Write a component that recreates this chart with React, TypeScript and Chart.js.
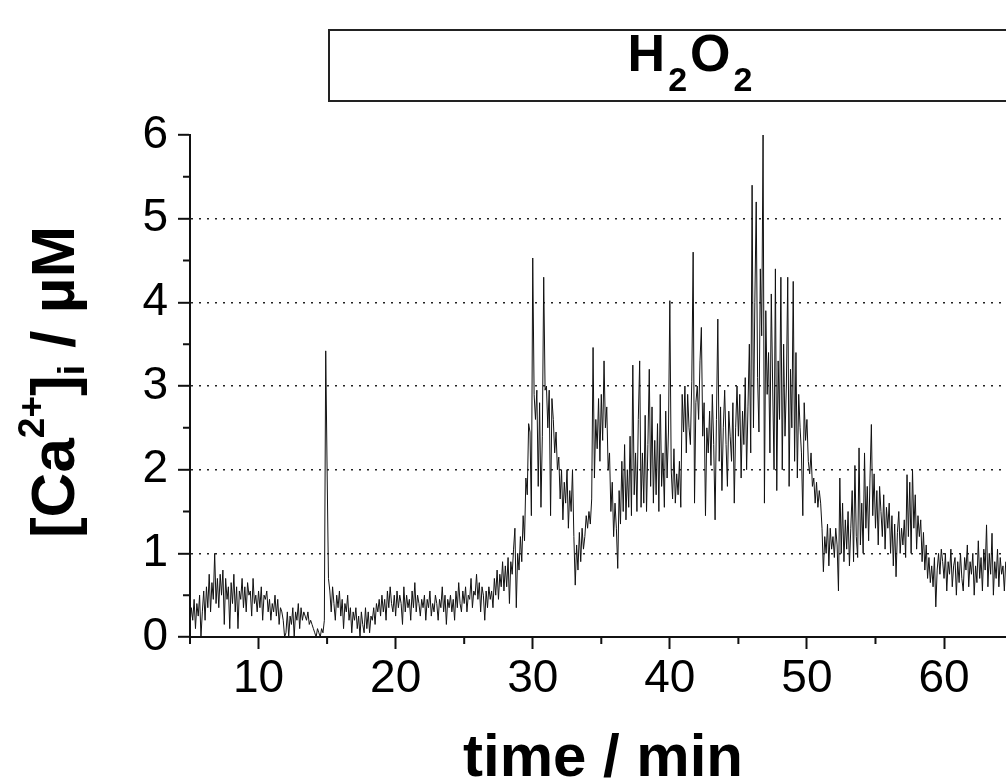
import React, { useEffect, useRef } from "react";
import { Chart, registerables } from "chart.js";

Chart.register(...registerables);

// ---- data: [Ca2+]i (µM) sampled every 0.1 min starting at 5 min ----
const TIME_START = 5;
const TIME_STEP = 0.1;

// 5.0 – 14.9 min
const caSeg05 = [
  0.15, 0.35, 0.2, 0.45, 0.1, 0.4, 0.25, 0.5, 0.0, 0.3,
  0.55, 0.2, 0.6, 0.35, 0.75, 0.3, 0.65, 0.45, 1.0, 0.4,
  0.7, 0.35, 0.75, 0.5, 0.8, 0.15, 0.7, 0.45, 0.6, 0.1,
  0.65, 0.4, 0.75, 0.3, 0.6, 0.1, 0.55, 0.45, 0.7, 0.35,
  0.6, 0.3, 0.65, 0.5, 0.55, 0.25, 0.7, 0.4, 0.5, 0.3,
  0.55, 0.35, 0.6, 0.2, 0.5, 0.45, 0.55, 0.3, 0.45, 0.2,
  0.4, 0.3, 0.5, 0.25, 0.45, 0.15, 0.35, 0.3, 0.2, 0.0,
  0.05, 0.3, 0.0, 0.25, 0.15, 0.35, 0.0, 0.3, 0.2, 0.4,
  0.1, 0.35, 0.2, 0.3, 0.25, 0.2, 0.3, 0.15, 0.2, 0.15,
  0.1, 0.05, 0.0, 0.1, 0.05, 0.0, 0.1, 0.05, 0.2, 3.42,
];
// 15.0 – 24.9 min
const caSeg15 = [
  2.0, 0.7, 0.55, 0.3, 0.6, 0.4, 0.2, 0.5, 0.35, 0.55,
  0.25, 0.45, 0.1, 0.4, 0.3, 0.5, 0.2, 0.35, 0.05, 0.3,
  0.2, 0.35, 0.1, 0.25, 0.0, 0.3, 0.15, 0.05, 0.35, 0.1,
  0.3, 0.05, 0.25, 0.2, 0.35, 0.15, 0.4, 0.3, 0.45, 0.25,
  0.5, 0.3, 0.45, 0.2, 0.55, 0.35, 0.6, 0.4, 0.3, 0.5,
  0.25, 0.55, 0.35, 0.5, 0.4, 0.15, 0.6, 0.3, 0.5, 0.35,
  0.45, 0.2, 0.55, 0.35, 0.65, 0.3, 0.5, 0.4, 0.25, 0.45,
  0.35, 0.5, 0.2, 0.45, 0.35, 0.55, 0.25, 0.4, 0.3, 0.5,
  0.4, 0.2, 0.45, 0.35, 0.6, 0.3, 0.5, 0.15, 0.45, 0.35,
  0.5, 0.3, 0.45, 0.2, 0.55, 0.35, 0.65, 0.4, 0.3, 0.55,
];
// 25.0 – 34.9 min
const caSeg25 = [
  0.4, 0.6, 0.3, 0.5, 0.45, 0.7, 0.35, 0.55, 0.5, 0.75,
  0.45, 0.65, 0.3, 0.6, 0.5, 0.2, 0.55, 0.35, 0.6, 0.45,
  0.55, 0.35, 0.7, 0.5, 0.8, 0.45, 0.75, 0.6, 0.9, 0.55,
  0.85, 0.6, 0.95, 0.4, 0.9, 0.75, 1.05, 1.3, 0.35, 1.0,
  0.8, 1.2, 0.9, 1.45, 1.15, 1.9, 1.7, 2.55, 2.45, 1.45,
  4.53, 2.9, 2.6, 2.95, 1.8, 2.8, 1.55, 2.4, 4.3, 2.95,
  3.0, 2.5, 2.95, 1.45, 2.85, 2.6, 2.2, 2.45, 2.0, 2.15,
  1.65, 2.0, 1.4, 1.85, 1.6, 2.0, 1.3, 1.75, 1.5, 2.0,
  1.2, 0.62, 1.1, 0.8, 1.25, 0.9, 1.3, 1.05, 1.2, 1.45,
  1.3, 1.5, 1.35, 1.65, 3.46, 1.9, 2.6, 2.25, 2.85, 2.1,
];
// 35.0 – 44.9 min
const caSeg35 = [
  2.9, 2.35, 3.3, 2.5, 2.75, 2.0, 2.2, 1.5, 1.85, 1.2,
  1.6, 1.3, 0.82, 1.75, 1.35, 2.1, 1.5, 2.3, 1.4, 2.0,
  1.55, 2.4, 1.45, 3.25, 1.7, 2.2, 1.5, 2.6, 3.3, 1.55,
  2.2, 1.6, 2.65, 1.5, 2.3, 3.2, 1.8, 2.75, 1.6, 2.35,
  1.7, 2.55, 1.5, 2.9, 1.8, 2.2, 1.55, 2.7, 1.9, 2.45,
  4.02, 2.0, 1.65, 2.25, 1.6, 1.95, 1.7, 2.1, 1.55, 2.9,
  2.45, 3.0, 2.2, 2.9, 2.5, 2.3, 3.05, 4.6, 1.6, 2.8,
  3.0, 2.6, 3.3, 3.7, 2.4, 2.8, 1.45, 2.5, 2.2, 2.7,
  2.05, 2.9, 2.3, 1.4, 2.6, 3.8, 2.1, 2.75, 1.75, 2.5,
  2.95, 2.3, 1.8, 2.7, 2.4, 2.1, 2.8, 1.6, 2.5, 3.0,
];
// 45.0 – 54.9 min
const caSeg45 = [
  2.4, 2.9, 1.9, 2.7, 2.3, 3.1, 2.0, 2.75, 3.5, 2.2,
  5.4, 2.5, 4.0, 5.2, 3.1, 2.45, 4.4, 3.6, 6.0, 1.6,
  3.9, 2.9, 3.4, 2.2, 4.1, 3.0, 2.0, 4.4, 1.75, 3.3,
  2.6, 4.3, 2.0, 3.5, 2.4, 3.0, 4.3, 1.8, 3.2, 2.5,
  4.25, 2.1, 3.4, 1.9, 2.9, 2.5, 2.2, 1.45, 2.8, 2.35,
  2.6, 2.1, 1.95, 2.2, 1.8, 1.9, 1.6, 1.85, 1.55, 1.75,
  1.6, 1.3, 0.78, 1.2, 1.0, 1.35, 0.85, 1.3, 1.05, 1.2,
  0.95, 1.3, 1.1, 0.55, 1.9, 1.0, 1.6, 0.9, 1.4, 1.05,
  1.5, 0.85, 1.3, 1.75, 0.9, 2.05, 1.2, 0.95, 2.26, 1.1,
  1.6, 1.0, 2.2, 1.3, 1.8, 1.15, 1.9, 2.54, 1.45, 1.95,
];
// 55.0 – 64.5 min
const caSeg55 = [
  1.3, 1.75, 1.1, 1.8, 1.5, 1.2, 1.7, 1.05, 1.55, 1.3,
  1.6, 1.0, 1.45, 0.85, 1.35, 0.72, 1.25, 1.5, 1.0, 1.3,
  1.1, 1.4, 0.95, 1.94, 1.2, 1.85, 1.0, 2.0, 1.3, 1.7,
  1.05, 1.45, 1.2, 1.4, 0.9, 1.25, 0.8, 1.1, 0.7, 0.95,
  0.65, 0.85, 0.6, 0.95, 0.36, 0.8, 1.0, 0.75, 1.05, 0.9,
  0.7, 1.0, 0.55, 0.9, 0.75, 1.05, 0.6, 0.85, 0.95, 0.5,
  0.9, 0.65, 1.0, 0.7, 0.55, 0.95, 0.8, 1.1, 0.6, 0.9,
  0.75, 1.0, 0.5, 0.85, 0.65, 1.15, 0.7, 0.95, 0.55, 1.05,
  0.8, 1.34, 0.6, 1.0, 0.75, 1.24, 0.5, 0.9, 0.7, 1.05,
  0.6, 0.95, 0.75, 0.85, 0.55, 0.9,
];

const X_MIN = 5;
const X_MAX = 64.52;
const Y_MIN = 0;
const Y_MAX = 6;
const X_MAJOR_TICKS = [10, 20, 30, 40, 50, 60];
const X_MINOR_TICKS = [5, 15, 25, 35, 45, 55];
const Y_MAJOR_TICKS = [0, 1, 2, 3, 4, 5, 6];
const Y_MINOR_TICKS = [0.5, 1.5, 2.5, 3.5, 4.5, 5.5];
const Y_GRID_VALUES = [1, 2, 3, 4, 5];

const TITLE_PARTS: [string, boolean][] = [["H", false], ["2", true], ["O", false], ["2", true]];
const X_TITLE = "time / min";
// [text, mode] mode: 0 normal, 1 superscript, -1 subscript
const Y_TITLE_PARTS: [string, number][] = [["[Ca", 0], ["2+", 1], ["]", 0], ["i", -1], [" / µM", 0]];

const FONT = "'Liberation Sans', Arial, Helvetica, sans-serif";
const INK = "#111";

const decorPlugin = {
  id: "decor",
  afterDraw(chart: any) {
    const ctx: CanvasRenderingContext2D = chart.ctx;
    const xs = chart.scales.x;
    const ys = chart.scales.y;
    const area = chart.chartArea;
    ctx.save();

    // minor ticks
    ctx.strokeStyle = INK;
    ctx.lineWidth = 2;
    ctx.beginPath();
    X_MINOR_TICKS.forEach((v) => {
      const px = xs.getPixelForValue(v);
      ctx.moveTo(px, area.bottom);
      ctx.lineTo(px, area.bottom + 7);
    });
    Y_MINOR_TICKS.forEach((v) => {
      const py = ys.getPixelForValue(v);
      ctx.moveTo(area.left, py);
      ctx.lineTo(area.left - 7, py);
    });
    ctx.stroke();

    // title box
    ctx.strokeStyle = "#222";
    ctx.lineWidth = 2;
    ctx.strokeRect(329, 30, 700, 71);

    // title text H2O2
    ctx.fillStyle = "#000";
    ctx.textBaseline = "alphabetic";
    ctx.textAlign = "left";
    const bigT = "bold 52px " + FONT;
    const smallT = "bold 34px " + FONT;
    const gap = 3;
    let total = 0;
    TITLE_PARTS.forEach(([t, sub]) => {
      ctx.font = sub ? smallT : bigT;
      total += ctx.measureText(t).width + gap;
    });
    total -= gap;
    let tx = 690 - total / 2;
    TITLE_PARTS.forEach(([t, sub]) => {
      ctx.font = sub ? smallT : bigT;
      ctx.fillText(t, tx, sub ? 91 : 71);
      tx += ctx.measureText(t).width + gap;
    });

    // x axis title
    ctx.font = "bold 60px " + FONT;
    ctx.textAlign = "center";
    ctx.fillText(X_TITLE, 603, 776);

    // y axis title (rotated)
    const bigY = "bold 62px " + FONT;
    const smallY = "bold 37px " + FONT;
    ctx.textAlign = "left";
    let ytotal = 0;
    Y_TITLE_PARTS.forEach(([t, m]) => {
      ctx.font = m === 0 ? bigY : smallY;
      ytotal += ctx.measureText(t).width;
    });
    ctx.translate(74, 382);
    ctx.rotate(-Math.PI / 2);
    let yx = -ytotal / 2;
    Y_TITLE_PARTS.forEach(([t, m]) => {
      ctx.font = m === 0 ? bigY : smallY;
      const dy = m === 1 ? -30 : m === -1 ? 10 : 0;
      ctx.fillText(t, yx, dy);
      yx += ctx.measureText(t).width;
    });

    ctx.restore();
  },
};

export default function App() {
  const canvasRef = useRef<HTMLCanvasElement | null>(null);

  useEffect(() => {
    const canvas = canvasRef.current;
    if (!canvas) return;
    const values = [...caSeg05, ...caSeg15, ...caSeg25, ...caSeg35, ...caSeg45, ...caSeg55];
    const points = values.map((v, i) => ({ x: Math.round((TIME_START + i * TIME_STEP) * 100) / 100, y: v }));

    const chart = new Chart(canvas, {
      type: "line",
      data: {
        datasets: [
          {
            data: points,
            borderColor: "#111",
            borderWidth: 1,
            pointRadius: 0,
            tension: 0,
            fill: false,
          },
        ],
      },
      options: {
        animation: false,
        responsive: false,
        devicePixelRatio: 1,
        layout: { padding: { top: 135, right: 0, bottom: 0, left: 0 } },
        plugins: { legend: { display: false }, tooltip: { enabled: false }, title: { display: false } },
        scales: {
          x: {
            type: "linear",
            min: X_MIN,
            max: X_MAX,
            afterBuildTicks: (scale: any) => {
              scale.ticks = X_MAJOR_TICKS.map((v) => ({ value: v }));
            },
            afterFit: (scale: any) => {
              scale.height = 780 - 637;
            },
            grid: {
              drawOnChartArea: false,
              drawTicks: true,
              tickLength: 12,
              tickColor: INK,
              tickWidth: 2,
            },
            border: { display: true, color: INK, width: 2 },
            ticks: {
              color: "#000",
              padding: 3,
              maxRotation: 0,
              autoSkip: false,
              font: { family: FONT, size: 46 },
              callback: (v: any) => String(v),
            },
          },
          y: {
            type: "linear",
            min: Y_MIN,
            max: Y_MAX,
            afterBuildTicks: (scale: any) => {
              scale.ticks = Y_MAJOR_TICKS.map((v) => ({ value: v }));
            },
            afterFit: (scale: any) => {
              scale.width = 190;
            },
            grid: {
              drawOnChartArea: true,
              drawTicks: true,
              tickLength: 12,
              tickColor: INK,
              tickWidth: 2,
              lineWidth: 1.6,
              color: (c: any) => (c.tick && Y_GRID_VALUES.includes(c.tick.value) ? "#222" : "rgba(0,0,0,0)"),
            },
            border: { display: true, color: INK, width: 2, dash: [2, 6] },
            ticks: {
              color: "#000",
              padding: 10,
              autoSkip: false,
              font: { family: FONT, size: 46 },
              callback: (v: any) => String(v),
            },
          },
        },
      },
      plugins: [decorPlugin],
    });

    return () => chart.destroy();
  }, []);

  return (
    <div style={{ position: "fixed", left: 0, top: 0, width: 1006, height: 780, background: "#fff" }}>
      <canvas ref={canvasRef} width={1006} height={780} style={{ display: "block" }} />
    </div>
  );
}
